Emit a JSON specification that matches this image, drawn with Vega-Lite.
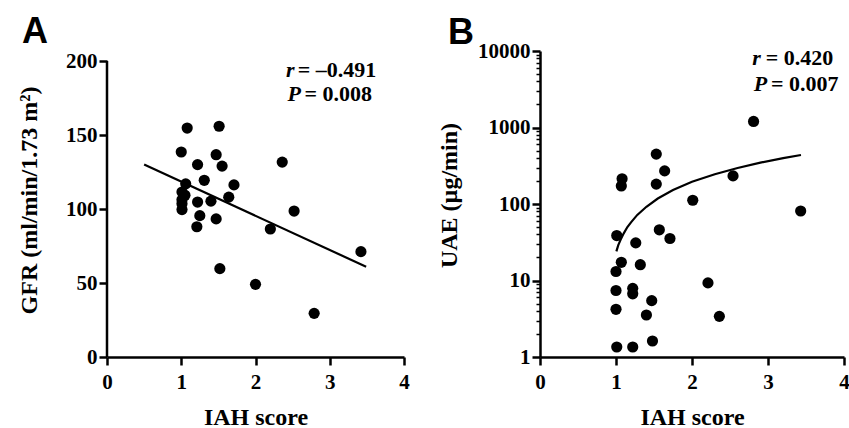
{
  "$schema": "https://vega.github.io/schema/vega-lite/v6.json",
  "background": "white",
  "padding": {"left": 17, "top": 14, "right": 5, "bottom": 0},
  "config": {
    "view": {"stroke": null},
    "axis": {
      "grid": false,
      "domainColor": "black",
      "domainWidth": 2.5,
      "tickColor": "black",
      "tickWidth": 2.5,
      "tickSize": 8,
      "labelFont": "Liberation Serif",
      "labelFontWeight": "bold",
      "labelFontSize": 21,
      "labelColor": "black",
      "titleFont": "Liberation Serif",
      "titleFontWeight": "bold",
      "titleFontSize": 24,
      "titleColor": "black"
    },
    "title": {"font": "Liberation Sans", "fontSize": 36, "fontWeight": "bold", "color": "black", "anchor": "start", "frame": "group"}
  },
  "datasets": {
    "gfr": [
      {"iah": 1.08, "gfr": 154.7}, {"iah": 1.51, "gfr": 155.9}, {"iah": 1.0, "gfr": 138.5},
      {"iah": 1.47, "gfr": 136.7}, {"iah": 1.22, "gfr": 130.0}, {"iah": 1.55, "gfr": 129.0},
      {"iah": 2.36, "gfr": 131.7}, {"iah": 1.31, "gfr": 119.4}, {"iah": 1.71, "gfr": 116.3},
      {"iah": 1.06, "gfr": 117.0}, {"iah": 1.64, "gfr": 108.0}, {"iah": 1.01, "gfr": 111.5},
      {"iah": 1.05, "gfr": 109.3}, {"iah": 1.01, "gfr": 106.3}, {"iah": 1.01, "gfr": 103.6},
      {"iah": 1.01, "gfr": 99.6}, {"iah": 1.22, "gfr": 104.7}, {"iah": 1.40, "gfr": 105.3},
      {"iah": 2.52, "gfr": 98.6}, {"iah": 1.25, "gfr": 95.5}, {"iah": 1.47, "gfr": 93.3},
      {"iah": 1.21, "gfr": 88.0}, {"iah": 2.20, "gfr": 86.5}, {"iah": 3.42, "gfr": 71.2},
      {"iah": 1.52, "gfr": 59.7}, {"iah": 2.0, "gfr": 49.1}, {"iah": 2.79, "gfr": 29.5}
    ],
    "gfrFit": [{"iah": 0.5, "gfr": 130.0}, {"iah": 3.49, "gfr": 61.0}],
    "gfrAxis": [{"iah": 0, "gfr": 0, "gfrTop": 200}],
    "uae": [
      {"iah": 2.81, "uae": 1200}, {"iah": 1.53, "uae": 449}, {"iah": 1.64, "uae": 271},
      {"iah": 1.08, "uae": 214}, {"iah": 1.07, "uae": 172}, {"iah": 1.53, "uae": 182},
      {"iah": 2.54, "uae": 233}, {"iah": 2.01, "uae": 112}, {"iah": 3.43, "uae": 81},
      {"iah": 1.01, "uae": 38.7}, {"iah": 1.26, "uae": 31}, {"iah": 1.57, "uae": 46},
      {"iah": 1.71, "uae": 35.4}, {"iah": 1.07, "uae": 17.3}, {"iah": 1.0, "uae": 13.1},
      {"iah": 1.32, "uae": 16.1}, {"iah": 1.0, "uae": 7.4}, {"iah": 1.22, "uae": 7.9},
      {"iah": 1.22, "uae": 6.7}, {"iah": 1.47, "uae": 5.45}, {"iah": 1.0, "uae": 4.2},
      {"iah": 1.40, "uae": 3.54}, {"iah": 1.48, "uae": 1.62}, {"iah": 1.01, "uae": 1.35},
      {"iah": 1.22, "uae": 1.35}, {"iah": 2.21, "uae": 9.3}, {"iah": 2.36, "uae": 3.4}
    ],
    "uaeFit": [
      {"iah": 1.005, "uae": 24}, {"iah": 1.03, "uae": 29}, {"iah": 1.06, "uae": 34},
      {"iah": 1.1, "uae": 41}, {"iah": 1.15, "uae": 50}, {"iah": 1.2, "uae": 58},
      {"iah": 1.28, "uae": 72}, {"iah": 1.4, "uae": 92}, {"iah": 1.55, "uae": 118},
      {"iah": 1.75, "uae": 152}, {"iah": 2.0, "uae": 195}, {"iah": 2.3, "uae": 245},
      {"iah": 2.6, "uae": 296}, {"iah": 2.9, "uae": 347}, {"iah": 3.2, "uae": 398},
      {"iah": 3.434, "uae": 437}
    ],
    "annA": [
      {"sym": "r", "sx": 2.47, "rest": "= \u20130.491", "rx": 2.57, "y": 193.7},
      {"sym": "P", "sx": 2.52, "rest": "= 0.008", "rx": 2.66, "y": 177.5}
    ],
    "annB": [
      {"sym": "r", "sx": 2.85, "rest": "= 0.420", "rx": 2.97, "y": 8017},
      {"sym": "P", "sx": 2.9, "rest": "= 0.007", "rx": 3.04, "y": 3758}
    ]
  },
  "hconcat": [
    {
      "width": 297,
      "height": 306,
      "title": {"text": "A", "dx": -85, "offset": -1},
      "layer": [
        {
          "data": {"name": "gfr"},
          "mark": {"type": "circle", "size": 125, "color": "black", "opacity": 1},
          "encoding": {
            "x": {"field": "iah", "type": "quantitative", "scale": {"domain": [0, 4], "nice": false, "zero": false},
                  "axis": {"title": "IAH score", "format": "d", "values": [0, 1, 2, 3, 4], "labelPadding": 6, "titlePadding": 13, "labelFlush": false}},
            "y": {"field": "gfr", "type": "quantitative", "scale": {"domain": [0, 206.76], "nice": false},
                  "axis": {"title": "GFR (ml/min/1.73 m\u00b2)", "format": "d", "domain": false, "values": [0, 50, 100, 150, 200], "labelPadding": 2, "titlePadding": 24, "titleY": 149, "labelFlush": false}}
          }
        },
        {
          "data": {"name": "gfrAxis"},
          "mark": {"type": "rule", "color": "black", "strokeWidth": 2.5},
          "encoding": {
            "x": {"field": "iah", "type": "quantitative"},
            "y": {"field": "gfr", "type": "quantitative"},
            "y2": {"field": "gfrTop"}
          }
        },
        {
          "data": {"name": "gfrFit"},
          "mark": {"type": "line", "color": "black", "strokeWidth": 2.2},
          "encoding": {
            "x": {"field": "iah", "type": "quantitative"},
            "y": {"field": "gfr", "type": "quantitative"}
          }
        },
        {
          "data": {"name": "annA"},
          "mark": {"type": "text", "font": "Liberation Serif", "fontSize": 22, "fontWeight": "bold", "fontStyle": "italic", "align": "center", "baseline": "middle", "color": "black"},
          "encoding": {
            "x": {"field": "sx", "type": "quantitative"},
            "y": {"field": "y", "type": "quantitative"},
            "text": {"field": "sym"}
          }
        },
        {
          "data": {"name": "annA"},
          "mark": {"type": "text", "font": "Liberation Serif", "fontSize": 22, "fontWeight": "bold", "align": "left", "baseline": "middle", "color": "black"},
          "encoding": {
            "x": {"field": "rx", "type": "quantitative"},
            "y": {"field": "y", "type": "quantitative"},
            "text": {"field": "rest"}
          }
        }
      ]
    },
    {
      "width": 304,
      "height": 306,
      "title": {"text": "B", "dx": -92, "offset": -12},
      "layer": [
        {
          "data": {"name": "uae"},
          "mark": {"type": "circle", "size": 125, "color": "black", "opacity": 1},
          "encoding": {
            "x": {"field": "iah", "type": "quantitative", "scale": {"domain": [0, 4], "nice": false, "zero": false},
                  "axis": {"title": "IAH score", "format": "d", "values": [0, 1, 2, 3, 4], "labelPadding": 6, "titlePadding": 13, "labelFlush": false}},
            "y": {"field": "uae", "type": "quantitative", "scale": {"type": "log", "domain": [1, 10000], "nice": false},
                  "axis": {"title": "UAE (\u00b5g/min)", "format": "d", "labelOverlap": false, "labelFlush": false,
                           "values": [1,2,3,4,5,6,7,8,9,10,20,30,40,50,60,70,80,90,100,200,300,400,500,600,700,800,900,1000,2000,3000,4000,5000,6000,7000,8000,9000,10000],
                           "labelExpr": "indexof([1,10,100,1000,10000], datum.value) >= 0 ? datum.label : ''",
                           "tickSize": {"condition": {"test": "indexof([1,10,100,1000,10000], datum.value) >= 0", "value": 8}, "value": 4},
                           "tickWidth": {"condition": {"test": "indexof([1,10,100,1000,10000], datum.value) >= 0", "value": 2.5}, "value": 1.5},
                           "labelPadding": 2, "titlePadding": 16, "titleY": 144}}
          }
        },
        {
          "data": {"name": "uaeFit"},
          "mark": {"type": "line", "color": "black", "strokeWidth": 2.2},
          "encoding": {
            "x": {"field": "iah", "type": "quantitative"},
            "y": {"field": "uae", "type": "quantitative"}
          }
        },
        {
          "data": {"name": "annB"},
          "mark": {"type": "text", "font": "Liberation Serif", "fontSize": 22, "fontWeight": "bold", "fontStyle": "italic", "align": "center", "baseline": "middle", "color": "black"},
          "encoding": {
            "x": {"field": "sx", "type": "quantitative"},
            "y": {"field": "y", "type": "quantitative"},
            "text": {"field": "sym"}
          }
        },
        {
          "data": {"name": "annB"},
          "mark": {"type": "text", "font": "Liberation Serif", "fontSize": 22, "fontWeight": "bold", "align": "left", "baseline": "middle", "color": "black"},
          "encoding": {
            "x": {"field": "rx", "type": "quantitative"},
            "y": {"field": "y", "type": "quantitative"},
            "text": {"field": "rest"}
          }
        }
      ]
    }
  ],
  "spacing": 27
}
